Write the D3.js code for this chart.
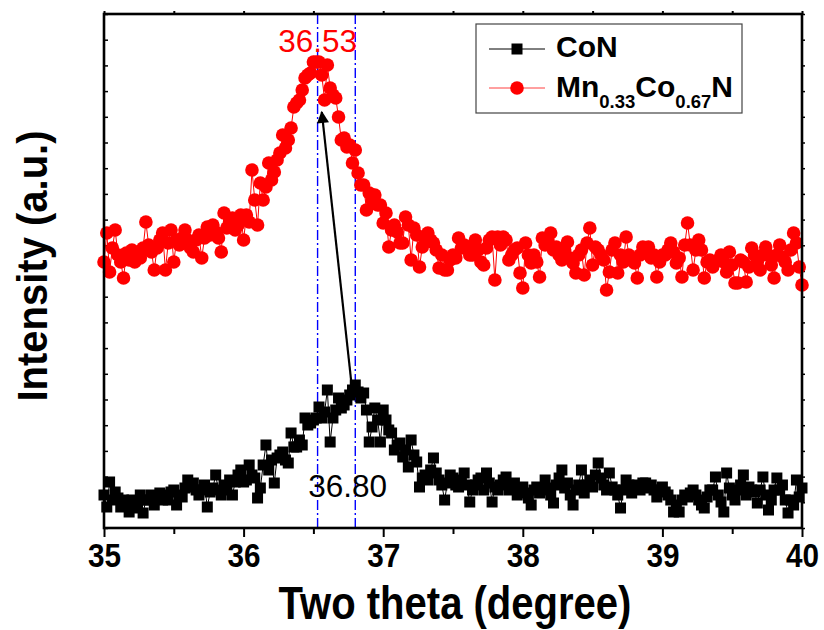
<!DOCTYPE html>
<html>
<head>
<meta charset="utf-8">
<script src="https://cdn.jsdelivr.net/npm/d3@7"></script>
<style>
  body { margin: 0; background: #fff; }
  svg { display: block; }
</style>
</head>
<body>
<svg id="chart" width="824" height="630"></svg>
<script>
// XRD step scan: 2θ from 35° to 40° in 0.02° steps
const thetaStart = 35;
const thetaStep = 0.02;

// CoN intensity (a.u.)
const conIntensity = [
  33,21,46,28,36,30,21,28,23,16, 28,20,23,33,15,28,28,33,23,31,
  35,28,33,28,36,38,23,33,31,40, 48,41,45,38,33,38,43,21,36,40,
  53,38,33,43,38,48,33,46,53,58, 46,48,63,53,50,30,40,63,83,58,
  68,45,70,73,76,68,65,95,81,81, 88,83,110,103,105,108,110,121,110,116,
  138,86,110,118,130,120,123,128,133,138, 143,136,130,135,118,86,101,120,108,86,
  118,108,98,95,78,83,85,71,78,61, 88,73,66,41,50,53,48,58,70,55,
  48,43,28,45,53,50,43,41,48,55, 43,26,38,43,48,50,38,55,45,26,
  41,38,43,48,51,38,43,45,33,38, 41,35,30,23,38,41,35,38,48,40,
  33,25,43,50,58,40,45,33,23,38, 43,58,35,43,48,41,53,65,50,43,
  38,55,41,38,33,20,38,48,43,35, 40,43,38,45,45,40,43,38,31,38,
  41,36,33,28,16,23,16,28,33,31, 35,38,33,28,23,20,31,38,38,51,
  33,26,16,55,40,33,28,38,43,53, 33,41,38,36,25,38,51,33,18,28,
  38,50,38,43,28,15,28,23,48,31, 40
];

// Mn0.33Co0.67N intensity (a.u.)
const mnCoIntensity = [
  266,295,256,280,298,273,266,250,275,268, 278,266,273,270,280,306,283,276,258,280,
  288,295,258,285,298,266,288,283,290,298, 288,280,276,288,293,270,290,301,293,303,
  296,290,276,315,300,306,310,298,303,313, 288,313,306,358,328,303,345,328,341,365,
  348,356,368,375,393,380,388,400,421,425, 428,438,450,453,455,466,466,466,453,428,
  463,440,433,430,411,388,390,381,383,365, 378,355,343,343,318,335,328,333,323,323,
  305,315,281,298,303,296,285,285,311,303, 268,300,293,261,281,288,295,288,285,278,
  260,273,258,258,268,273,270,290,280,283, 281,273,273,288,278,266,263,280,288,291,
  248,291,283,291,288,268,273,278,280,255, 240,285,273,265,273,266,251,290,283,288,
  295,278,281,273,268,278,286,270,265,255, 273,278,253,285,300,263,281,278,273,268,
  238,256,278,285,255,273,266,291,273,270, 265,250,273,281,278,281,270,273,251,266,
  273,273,278,285,276,265,270,251,283,305, 283,258,278,288,278,250,266,268,261,266,
  268,273,266,256,276,263,245,245,268,266, 246,261,280,273,266,258,273,281,273,263,
  250,273,283,271,266,258,278,295,285,261, 243
];

const seriesNames = ["CoN", "Mn", "Co", "N"];
const seriesSubscripts = ["0.33", "0.67"];
const xMajorTicks = [35, 36, 37, 38, 39, 40];
const xTickLabels = ["35", "36", "37", "38", "39", "40"];
const xMinorTicks = [35.5, 36.5, 37.5, 38.5, 39.5];
const peakPositions = [36.53, 36.80];
const peakLabels = ["36.53", "36.80"];
// arrow: from the CoN peak top to the alloy peak
const arrowFrom = [36.78, 135];
const arrowTo = [36.56, 416];

const FONT = "'Liberation Sans', Arial, Helvetica, sans-serif";
const plot = { left: 104, right: 802, top: 14, bottom: 528 };

const svg = d3.select("#chart");
const x = d3.scaleLinear().domain([35, 40]).range([plot.left, plot.right]);
const y = d3.scaleLinear().domain([0, 514]).range([plot.bottom, plot.top]);
const thetaAt = i => thetaStart + i * thetaStep;

// ---- axes ----
const axisStyle = g => {
  g.select(".domain").remove();
  g.selectAll(".tick line").attr("stroke", "#000").attr("stroke-width", 2);
};

const gBottom = svg.append("g")
  .attr("transform", `translate(0,${plot.bottom})`)
  .call(d3.axisBottom(x).tickValues(xMajorTicks)
    .tickFormat((d, i) => xTickLabels[i]).tickSize(9))
  .call(axisStyle);
gBottom.selectAll(".tick text")
  .attr("y", 0).attr("dy", 0)
  .attr("transform", "translate(0,39) scale(0.9,1)")
  .attr("fill", "#000")
  .style("font-family", FONT).style("font-weight", "bold").style("font-size", "33px");

svg.append("g")
  .attr("transform", `translate(0,${plot.bottom})`)
  .call(d3.axisBottom(x).tickValues(xMinorTicks).tickFormat("").tickSize(6))
  .call(axisStyle);

svg.append("g")
  .attr("transform", `translate(0,${plot.top})`)
  .call(d3.axisTop(x).tickValues(xMajorTicks.concat(xMinorTicks)).tickFormat("").tickSize(3))
  .call(axisStyle);

const yTicks = d3.range(0, 515, 25.7);
svg.append("g")
  .attr("transform", `translate(${plot.left},0)`)
  .call(d3.axisLeft(y).tickValues(yTicks).tickFormat("").tickSize(-4))
  .call(axisStyle)
  .selectAll(".tick line").attr("stroke-width", 1.5);
svg.append("g")
  .attr("transform", `translate(${plot.right},0)`)
  .call(d3.axisRight(y).tickValues(yTicks).tickFormat("").tickSize(3))
  .call(axisStyle)
  .selectAll(".tick line").attr("stroke-width", 1.5);

// ---- peak guide lines ----
svg.append("g").selectAll("line").data(peakPositions).join("line")
  .attr("x1", d => x(d)).attr("x2", d => x(d))
  .attr("y1", plot.top).attr("y2", plot.bottom)
  .attr("stroke", "#0000ff").attr("stroke-width", 1.4)
  .attr("stroke-dasharray", "10,3,2,3");

// ---- series ----
const line = d3.line().x((d, i) => x(thetaAt(i))).y(d => y(d));

svg.append("path").datum(mnCoIntensity)
  .attr("d", line).attr("fill", "none")
  .attr("stroke", "#ff0000").attr("stroke-width", 1);
svg.append("g").selectAll("circle").data(mnCoIntensity).join("circle")
  .attr("cx", (d, i) => x(thetaAt(i))).attr("cy", d => y(d))
  .attr("r", 6.8).attr("fill", "#ff0000");

svg.append("path").datum(conIntensity)
  .attr("d", line).attr("fill", "none")
  .attr("stroke", "#000").attr("stroke-width", 1);
const sq = 11;
svg.append("g").selectAll("rect").data(conIntensity).join("rect")
  .attr("x", (d, i) => x(thetaAt(i)) - sq / 2).attr("y", d => y(d) - sq / 2)
  .attr("width", sq).attr("height", sq).attr("fill", "#000");

// ---- frame ----
svg.append("rect")
  .attr("x", plot.left).attr("y", plot.top)
  .attr("width", plot.right - plot.left).attr("height", plot.bottom - plot.top)
  .attr("fill", "none").attr("stroke", "#000").attr("stroke-width", 2.6);

// ---- arrow ----
svg.append("defs").append("marker")
  .attr("id", "head").attr("viewBox", "0 0 10 10")
  .attr("refX", 9).attr("refY", 5)
  .attr("markerWidth", 8).attr("markerHeight", 5.5)
  .attr("markerUnits", "strokeWidth")
  .attr("orient", "auto")
  .append("path").attr("d", "M0,0 L10,5 L0,10 Z").attr("fill", "#000");
svg.append("line")
  .attr("x1", x(arrowFrom[0])).attr("y1", y(arrowFrom[1]))
  .attr("x2", x(arrowTo[0])).attr("y2", y(arrowTo[1]))
  .attr("stroke", "#000").attr("stroke-width", 2.2)
  .attr("marker-end", "url(#head)");

// ---- peak labels ----
svg.append("text")
  .attr("x", x(peakPositions[0])).attr("y", 52)
  .attr("text-anchor", "middle").attr("fill", "#ff0000")
  .style("font-family", FONT).style("font-size", "31.5px")
  .text(peakLabels[0]);
svg.append("text")
  .attr("x", x(36.745)).attr("y", 497)
  .attr("text-anchor", "middle").attr("fill", "#000")
  .style("font-family", FONT).style("font-size", "31.5px")
  .text(peakLabels[1]);

// ---- legend ----
const lg = svg.append("g");
lg.append("rect").attr("x", 476).attr("y", 24).attr("width", 266).attr("height", 89)
  .attr("fill", "#fff").attr("stroke", "#444").attr("stroke-width", 1.2);
lg.append("line").attr("x1", 489).attr("x2", 545).attr("y1", 49).attr("y2", 49)
  .attr("stroke", "#000").attr("stroke-width", 1);
lg.append("rect").attr("x", 517 - sq / 2).attr("y", 49 - sq / 2)
  .attr("width", sq).attr("height", sq).attr("fill", "#000");
lg.append("text").attr("x", 556).attr("y", 57)
  .style("font-family", FONT).style("font-weight", "bold").style("font-size", "30px")
  .text(seriesNames[0]);
lg.append("line").attr("x1", 489).attr("x2", 545).attr("y1", 88).attr("y2", 88)
  .attr("stroke", "#ff4040").attr("stroke-width", 1);
lg.append("circle").attr("cx", 517).attr("cy", 88).attr("r", 6.8).attr("fill", "#ff0000");
const t2 = lg.append("text").attr("x", 556).attr("y", 97)
  .style("font-family", FONT).style("font-weight", "bold").style("font-size", "30px");
t2.append("tspan").text(seriesNames[1]);
t2.append("tspan").attr("dy", 11).style("font-size", "18.5px").text(seriesSubscripts[0]);
t2.append("tspan").attr("dy", -11).text(seriesNames[2]);
t2.append("tspan").attr("dy", 11).style("font-size", "18.5px").text(seriesSubscripts[1]);
t2.append("tspan").attr("dy", -11).text(seriesNames[3]);

// ---- axis titles ----
svg.append("text")
  .attr("transform", `translate(455,619) scale(0.87,1)`)
  .attr("text-anchor", "middle")
  .style("font-family", FONT).style("font-weight", "bold").style("font-size", "46px")
  .text("Two theta (degree)");
svg.append("text")
  .attr("transform", `translate(47,266) rotate(-90) scale(0.93,1)`)
  .attr("text-anchor", "middle")
  .style("font-family", FONT).style("font-weight", "bold").style("font-size", "43px")
  .text("Intensity (a.u.)");
</script>
</body>
</html>
